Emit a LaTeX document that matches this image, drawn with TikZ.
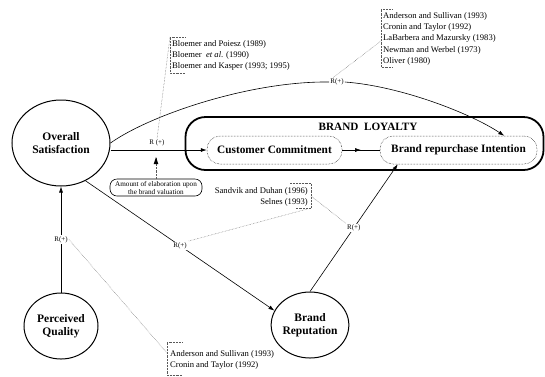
\documentclass[tikz,border=0pt]{standalone}
\usepackage{fontspec}
\setmainfont{Liberation Serif}
\usetikzlibrary{arrows.meta,decorations.markings,shapes.geometric}
\tikzset{
  construct/.style={ellipse,draw,line width=1pt,inner sep=0pt,align=center,
    font=\fontsize{11.5}{13.5}\selectfont\bfseries},
  pill/.style={draw,densely dotted,line width=0.5pt,rounded corners=13pt,inner sep=0pt,
    minimum height=28pt,font=\fontsize{11.3}{13}\selectfont\bfseries},
  conn/.style={line width=0.6pt,-{Latex[length=6pt,width=4pt]}},
  plain/.style={line width=0.6pt},
  rlab/.style={fill=white,inner sep=1pt,font=\fontsize{7}{8}\selectfont},
  cite/.style={inner sep=0pt,align=left,font=\fontsize{8.6}{11.3}\selectfont},
  refline/.style={densely dotted,line width=0.45pt,gray!70!black},
  midarrow/.style={postaction={decorate},decoration={markings,
    mark=at position 0.5 with {\arrow{Latex[length=6pt,width=4pt]}}}}
}
\begin{document}
\begin{tikzpicture}[x=1pt,y=-1pt]
\useasboundingbox (0,0) rectangle (545,376);
\fill[white] (0,0) rectangle (545,376);

% constructs
\node[construct,minimum width=98pt,minimum height=86pt] (os) at (61,143) {Overall\\Satisfaction};
\node[construct,minimum width=74pt,minimum height=66pt] (pq) at (61,326) {Perceived\\Quality};
\node[construct,minimum width=74pt,minimum height=66pt] (br) at (310,325) {Brand\\Reputation};

% brand loyalty
\node[draw,line width=1.8pt,rounded corners=20pt,minimum width=358pt,minimum height=53pt,inner sep=0pt] (bl) at (364.5,143.5) {};
\node[inner sep=0pt,font=\fontsize{11.2}{13}\selectfont\bfseries] (bltxt) at (368,127) {BRAND\ \ LOYALTY};
\node[pill,minimum width=135pt] (cc) at (274.5,150) {Customer Commitment};
\node[pill,minimum width=157pt] (bri) at (458.5,150) {Brand repurchase Intention};

% elaboration box
\node[draw,rounded corners=7pt,line width=0.6pt,minimum width=92pt,minimum height=17pt,inner sep=0pt,align=center,
  font=\fontsize{7.2}{8}\selectfont] (elab) at (156,187.5) {Amount of elaboration upon\\the brand valuation};

% R labels
\node[rlab] (r1) at (157,143) {R (+)};
\node[rlab] (rtop) at (337,82) {R(+)};

% connectors
\draw[conn] (os.east |- cc.west) -- (cc.west);
\draw[plain,midarrow] (cc.east) -- (bri.west);
\coordinate (elabtip) at (156,157);
\draw[refline] (elab.north) -- (elabtip);
\fill (elabtip) -- ++(-2.3,7) -- ++(4.6,0) -- cycle;

\draw[plain] (os.east) .. controls (150,115) and (250,81) .. (rtop.west);
\draw[conn] (rtop.east) .. controls (400,86) and (470,113) .. ([xshift=-33pt]bri.north east);

\draw[conn] (pq.north) -- node[rlab] (r2) {R(+)} (os.south);
\draw[conn] (os.-57) -- node[rlab] (r3) {R(+)} (br.158);
\draw[conn] (br.north) -- node[rlab] (r4) {R(+)} ([xshift=18pt]bri.south west);

% citation groups
\node[cite,anchor=north west] (c1) at (172,40) {Bloemer and Poiesz (1989)\\Bloemer\ \ \textit{et al}. (1990)\\Bloemer and Kasper (1993; 1995)};
\draw[refline] (185,37) -- (170,37) -- (170,73) -- (185,73);
\draw[refline] (170,37) -- (r1.north);

\node[cite,anchor=north west] (c2) at (383,12) {Anderson and Sullivan (1993)\\Cronin and Taylor (1992)\\LaBarbera and Mazursky (1983)\\Newman and Werbel (1973)\\Oliver (1980)};
\draw[refline] (392,9) -- (381,9) -- (381,67) -- (392,67);
\draw[refline] (381,41) -- ([xshift=-4pt]rtop.north);

\node[cite,anchor=north east,align=right] (c3) at (308,187) {Sandvik and Duhan (1996)\\Selnes (1993)};
\draw[refline] (290,183) -- (311,183) -- (311,208) -- (295,208);
\draw[refline] (311,208) -- (r3.north east);
\draw[refline] (311,196) -- (r4.north west);

\node[cite,anchor=north west] (c4) at (170,350) {Anderson and Sullivan (1993)\\Cronin and Taylor (1992)};
\draw[refline] (182,342) -- (167,342) -- (167,375) -- (182,375);
\draw[refline] (167,353) -- (r2.east);
\end{tikzpicture}
\end{document}
